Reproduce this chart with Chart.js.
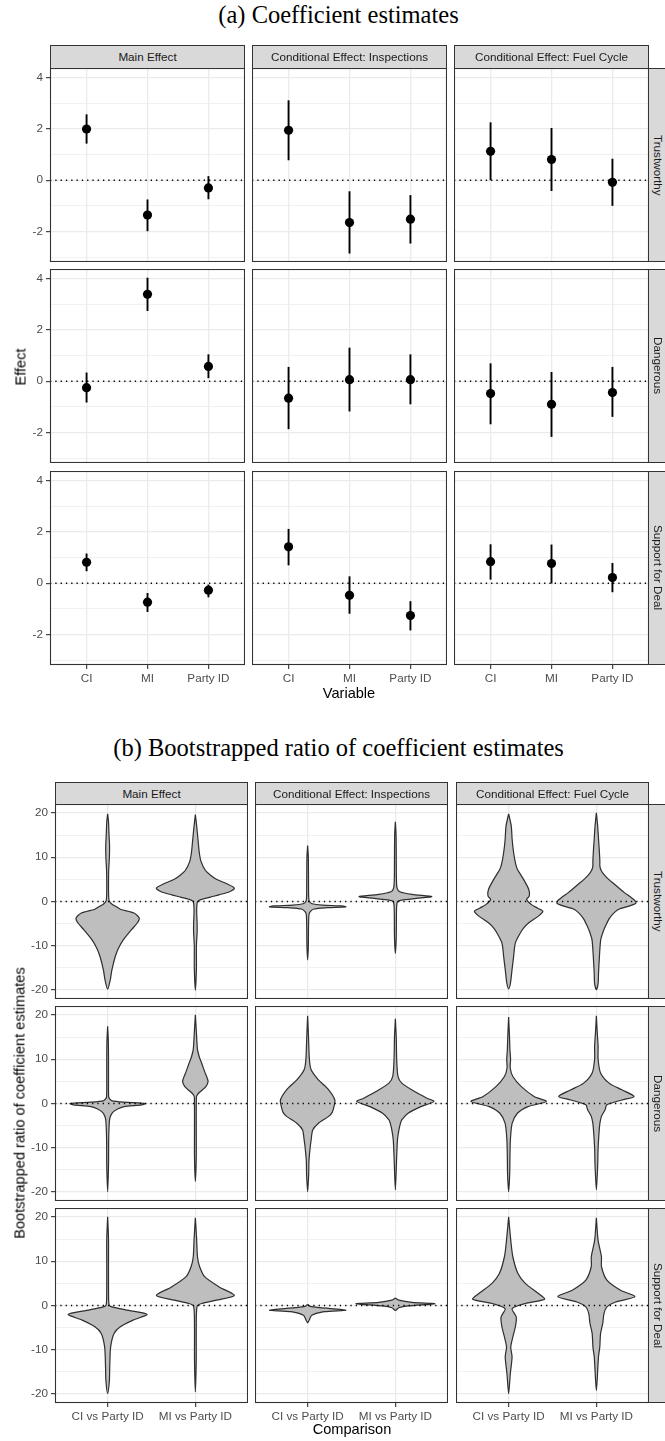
<!DOCTYPE html>
<html>
<head>
<meta charset="utf-8">
<script src="https://cdn.jsdelivr.net/npm/chart.js@4.4.1/dist/chart.umd.min.js"></script>
<style>
html, body { margin: 0; padding: 0; background: #fff; overflow: hidden; }
#page { position: relative; width: 665px; height: 1441px; font-family: "Liberation Sans", Arial, sans-serif; }
#page canvas { position: absolute; }
.lab { position: absolute; white-space: nowrap; color: #000; transform: translate(-50%, -50%); }
.strip { position: absolute; box-sizing: border-box; background: #d9d9d9; border: 1px solid #333; color: #1a1a1a;
         font-size: 11.7px; text-align: center; white-space: nowrap; overflow: hidden; }
.strip.side { writing-mode: vertical-rl; line-height: 16px; }
</style>
</head>
<body>
<div id="page"></div>
<script>
// ---------- data ----------

const facets = ['Main Effect', 'Conditional Effect: Inspections', 'Conditional Effect: Fuel Cycle'];
const outcomes = ['Trustworthy', 'Dangerous', 'Support for Deal'];
const variables = ['CI', 'MI', 'Party ID'];
const comparisons = ['CI vs Party ID', 'MI vs Party ID'];

const effectTicks = [-3, -2, -1, 0, 1, 2, 3, 4];
const effectMajor = [-2, 0, 2, 4];
const ratioTicks = [-20, -15, -10, -5, 0, 5, 10, 15, 20];
const ratioMajor = [-20, -10, 0, 10, 20];

// order: Main CI, MI, Party ID | Inspections CI, MI, Party ID | Fuel Cycle CI, MI, Party ID
const trustEst  = [2.00, -1.36, -0.30,  1.95, -1.65, -1.52,  1.13,  0.81, -0.08];
const trustLow  = [1.43, -1.99, -0.74,  0.78, -2.86, -2.47,  0.00, -0.42, -1.00];
const trustHigh = [2.57, -0.75,  0.16,  3.12, -0.43, -0.58,  2.26,  2.04,  0.84];

const dangerEst  = [-0.25, 3.39, 0.58, -0.66,  0.06,  0.06, -0.48, -0.90, -0.44];
const dangerLow  = [-0.83, 2.74, 0.12, -1.87, -1.18, -0.90, -1.68, -2.17, -1.39];
const dangerHigh = [ 0.34, 4.04, 1.05,  0.56,  1.31,  1.05,  0.70,  0.36,  0.56];

const supportEst  = [0.82, -0.74, -0.27, 1.42, -0.47, -1.26, 0.84,  0.77,  0.22];
const supportLow  = [0.47, -1.12, -0.55, 0.70, -1.19, -1.84, 0.14, -0.01, -0.35];
const supportHigh = [1.16, -0.38, -0.05, 2.12,  0.27, -0.70, 1.52,  1.51,  0.79];

// violin profiles: [ratio value, half width of the density in category units]
const vTrustMainCI = [[19.8,0],[18,0.01],[15,0.016],[12.5,0.022],[10,0.02],[7,0.012],[4,0.01],[1,0.012],[0,0.02],
  [-0.6,0.05],[-1.2,0.1],[-1.8,0.15],[-2.6,0.3],[-3.7,0.36],[-4.8,0.34],[-6.4,0.27],[-8.6,0.18],[-10.5,0.125],
  [-12.4,0.087],[-15.5,0.048],[-17.7,0.03],[-19.8,0]];
const vTrustMainMI = [[19.6,0],[17,0.015],[14,0.03],[11,0.045],[9,0.065],[7,0.115],[6,0.17],[5,0.24],[4,0.36],
  [3,0.445],[2.2,0.39],[1.5,0.27],[1,0.17],[0.5,0.075],[0,0.025],[-2,0.015],[-5,0.02],[-7,0.02],[-10,0.012],
  [-15,0.012],[-20,0]];
const vTrustInsCI = [[12.6,0],[10,0.008],[5,0.01],[1,0.012],[0,0.02],[-0.5,0.05],[-0.8,0.17],[-1.0,0.39],
  [-1.2,0.435],[-1.4,0.22],[-1.7,0.07],[-2.3,0.03],[-3,0.015],[-6,0.01],[-10,0.008],[-13.2,0]];
const vTrustInsMI = [[18,0],[15,0.008],[10,0.01],[5,0.012],[3,0.02],[2.2,0.05],[1.6,0.19],[1.1,0.415],
  [0.7,0.24],[0.3,0.07],[0,0.025],[-1,0.015],[-3,0.012],[-8,0.01],[-11.7,0]];
const vTrustFuelCI = [[19.8,0],[17,0.03],[14,0.04],[11,0.057],[8.5,0.08],[7.3,0.1],[5,0.17],[2.7,0.23],
  [1.2,0.235],[0.45,0.205],[-0.7,0.26],[-1.5,0.33],[-2.2,0.39],[-3.3,0.34],[-4.8,0.23],[-6,0.17],[-7.1,0.133],
  [-9.4,0.076],[-12.4,0.057],[-15.5,0.038],[-18.5,0.02],[-19.7,0]];
const vTrustFuelMI = [[20,0],[17,0.015],[14,0.025],[11,0.035],[9,0.04],[8,0.04],[7,0.055],[6,0.09],[5,0.14],
  [4,0.2],[3,0.26],[2,0.32],[1,0.39],[0.2,0.44],[-0.4,0.45],[-1,0.38],[-1.8,0.25],[-3,0.18],[-4.1,0.14],
  [-5.3,0.11],[-6.4,0.085],[-8.6,0.05],[-12.4,0.035],[-16,0.025],[-18.5,0.02],[-19.9,0]];

const vDangerMainCI = [[17.4,0],[14,0.008],[10,0.01],[5,0.01],[1.5,0.012],[1,0.025],[0.6,0.05],[0.3,0.19],
  [0,0.43],[-0.3,0.39],[-0.7,0.19],[-1.2,0.12],[-2,0.058],[-3,0.03],[-4,0.02],[-8,0.012],[-14,0.01],[-19.9,0]];
const vDangerMainMI = [[20,0],[16,0.012],[12.2,0.024],[10.5,0.045],[9.1,0.072],[7.2,0.106],[6,0.13],[5,0.145],
  [3.8,0.12],[2.7,0.058],[2,0.024],[1.5,0.012],[-5,0.01],[-12,0.01],[-17.6,0]];
const vDangerInsCI = [[19.8,0],[15,0.01],[10,0.02],[7.6,0.04],[5.4,0.12],[3.1,0.24],[0.8,0.31],[-0.7,0.3],
  [-2,0.28],[-2.9,0.24],[-4.5,0.12],[-6,0.058],[-8.2,0.04],[-9.7,0.03],[-13,0.015],[-16,0.012],[-19.9,0]];
const vDangerInsMI = [[19.1,0],[15,0.01],[10,0.015],[6.1,0.03],[4.6,0.073],[2.7,0.22],[1.2,0.36],[0.45,0.44],
  [-0.7,0.29],[-2.2,0.145],[-3.7,0.073],[-4.5,0.058],[-6,0.04],[-8.2,0.024],[-12,0.015],[-19.5,0]];
const vDangerFuelCI = [[19.5,0],[15,0.01],[12,0.015],[10,0.022],[8,0.018],[6.1,0.048],[3.8,0.145],[1.6,0.29],
  [0.45,0.43],[-0.7,0.22],[-2.2,0.1],[-4.5,0.04],[-8.2,0.02],[-12,0.015],[-16,0.012],[-19.9,0]];
const vDangerFuelMI = [[19.8,0],[16,0.01],[12.9,0.02],[10,0.02],[6.9,0.048],[4.6,0.145],[3.1,0.29],[1.6,0.43],
  [0.8,0.29],[-0.3,0.12],[-1.4,0.1],[-2.9,0.058],[-4.5,0.04],[-6.7,0.03],[-10,0.02],[-14,0.015],[-19.5,0]];

const vSupportMainCI = [[20,0],[15,0.01],[10,0.01],[5,0.01],[1,0.012],[0,0.02],[-0.3,0.05],[-1.1,0.24],
  [-2,0.45],[-3.3,0.29],[-4.8,0.145],[-6.3,0.073],[-9.4,0.034],[-13.9,0.024],[-16.9,0.02],[-19.9,0]];
const vSupportMainMI = [[19.8,0],[14.8,0.015],[11,0.024],[8.8,0.048],[6.5,0.106],[4.2,0.27],[2.3,0.445],
  [1.2,0.24],[0.45,0.073],[-0.15,0.02],[-5,0.01],[-12,0.01],[-19.5,0]];
const vSupportInsCI = [[0.25,0],[-0.2,0.03],[-0.5,0.145],[-1.05,0.435],[-1.4,0.19],[-2.2,0.048],[-3.2,0.02],[-3.9,0]];
const vSupportInsMI = [[1.7,0],[1.2,0.04],[0.7,0.19],[0.4,0.45],[-0.1,0.145],[-0.5,0.04],[-1.1,0]];
const vSupportFuelCI = [[20,0],[14.8,0.024],[11,0.048],[7.2,0.106],[5,0.19],[2.7,0.34],[1.4,0.41],[0.45,0.19],
  [-0.7,0.04],[-2.6,0.087],[-4.8,0.077],[-7.1,0.048],[-9.4,0.024],[-11.6,0.039],[-15.4,0.019],[-19.9,0]];
const vSupportFuelMI = [[19.8,0],[14.8,0.019],[11,0.058],[8.8,0.058],[5.7,0.12],[3.5,0.27],[2,0.44],[0.8,0.22],
  [-0.3,0.12],[-1.8,0.087],[-4,0.073],[-6.3,0.048],[-9.4,0.039],[-11.6,0.024],[-19.2,0]];

// ---------- layout ----------

const page = document.getElementById('page');
const BOTTOM_H = 26;
const layoutA = { lefts: [50, 252, 454], tops: [68, 269, 471], w: 195, h: 194, stripTop: 45, leftW: 50 };
const layoutB = { lefts: [55, 255, 456], tops: [804, 1006, 1208], w: 193, h: 195, stripTop: 782, leftW: 55 };

Chart.defaults.font.family = '"Liberation Sans", Arial, sans-serif';
Chart.defaults.color = '#4d4d4d';

const panelBox = {
    id: 'panelBox',
    afterDraw(chart) {
        const a = chart.chartArea;
        const ctx = chart.ctx;
        ctx.save();
        ctx.strokeStyle = '#333333';
        ctx.lineWidth = 1.1;
        ctx.strokeRect(a.left + 0.5, a.top + 0.5, a.right - a.left - 1, a.bottom - a.top - 1);
        ctx.restore();
    }
};

function label(text, cx, cy, size, extra) {
    const d = document.createElement('div');
    d.className = 'lab';
    d.textContent = text;
    d.style.left = cx + 'px';
    d.style.top = cy + 'px';
    d.style.fontSize = size + 'px';
    d.style.lineHeight = Math.round(size * 1.3) + 'px';
    Object.assign(d.style, extra || {});
    page.appendChild(d);
}

function strip(text, left, top, w, h, side) {
    const d = document.createElement('div');
    d.className = side ? 'strip side' : 'strip';
    d.textContent = text;
    d.style.left = left + 'px';
    d.style.top = top + 'px';
    d.style.width = w + 'px';
    d.style.height = h + 'px';
    if (!side) d.style.lineHeight = (h - 2) + 'px';
    page.appendChild(d);
}

function zeroLine(xMin, xMax) {
    return {
        data: [{ x: xMin, y: 0 }, { x: xMax, y: 0 }],
        borderColor: '#000', borderWidth: 1.3, borderDash: [1.3, 4], pointRadius: 0, fill: false
    };
}

function violinPoints(center, profile) {
    const right = profile.map(([v, hw]) => ({ x: center + hw, y: v }));
    const left = profile.slice(1, -1).reverse().map(([v, hw]) => ({ x: center - hw, y: v }));
    return right.concat(left, [{ x: center, y: profile[0][0] }]);
}

function makePanel(o) {
    const leftW = o.leftCol ? o.leftW : 0;
    const bottomH = o.bottom ? BOTTOM_H : 0;
    const cw = o.w + leftW, ch = o.h + bottomH;
    const cv = document.createElement('canvas');
    cv.width = cw;
    cv.height = ch;
    cv.style.left = (o.left - leftW) + 'px';
    cv.style.top = o.top + 'px';
    cv.style.width = cw + 'px';
    cv.style.height = ch + 'px';
    page.appendChild(cv);

    const noPad = s => { s.paddingLeft = s.paddingRight = s.paddingTop = s.paddingBottom = 0; };
    const isMajor = v => o.yMajor.includes(v);

    new Chart(cv, {
        type: 'line',
        data: { datasets: o.datasets },
        options: {
            responsive: false,
            animation: false,
            events: [],
            layout: { padding: 0, autoPadding: false },
            plugins: { legend: { display: false }, tooltip: { enabled: false } },
            scales: {
                x: {
                    type: 'linear', min: o.xMin, max: o.xMax,
                    afterBuildTicks: s => { s.ticks = o.xTicks.map(v => ({ value: v })); },
                    afterFit: s => { s.height = bottomH; noPad(s); },
                    ticks: {
                        display: o.bottom, autoSkip: false, maxRotation: 0, padding: 3,
                        color: '#4d4d4d', font: { size: 11.7 },
                        callback: v => o.xLabels[v - 1]
                    },
                    grid: { color: '#ebebeb', lineWidth: 1.3, drawTicks: o.bottom, tickLength: 4, tickColor: '#333333', tickWidth: 1.1 },
                    border: { display: false }
                },
                y: {
                    type: 'linear', min: o.yMin, max: o.yMax,
                    afterBuildTicks: s => { s.ticks = o.yTicks.map(v => ({ value: v })); },
                    afterFit: s => { s.width = leftW; noPad(s); },
                    ticks: {
                        display: o.leftCol, autoSkip: false, padding: 3,
                        color: '#4d4d4d', font: { size: 11.7 },
                        callback: v => isMajor(v) ? String(v) : ''
                    },
                    grid: {
                        color: '#ebebeb',
                        lineWidth: c => isMajor(c.tick.value) ? 1.3 : 0.7,
                        drawTicks: o.leftCol, tickLength: 4, tickWidth: 1.1,
                        tickColor: c => isMajor(c.tick.value) ? '#333333' : 'rgba(0,0,0,0)'
                    },
                    border: { display: false }
                }
            }
        },
        plugins: [panelBox]
    });
}

// ---------- (a) coefficient estimates ----------

const estRows = [trustEst, dangerEst, supportEst];
const lowRows = [trustLow, dangerLow, supportLow];
const highRows = [trustHigh, dangerHigh, supportHigh];

label('(a) Coefficient estimates', 338.5, 15.4, 24.5, { fontFamily: '"Liberation Serif", "Times New Roman", serif' });

for (let r = 0; r < 3; r++) {
    for (let c = 0; c < 3; c++) {
        const idx = [0, 1, 2].map(i => c * 3 + i);
        const datasets = [{
            data: idx.map((k, i) => ({ x: i + 1, y: estRows[r][k] })),
            showLine: false, pointRadius: 4.6, pointBackgroundColor: '#000', pointBorderColor: '#000', pointBorderWidth: 0
        }];
        idx.forEach((k, i) => datasets.push({
            data: [{ x: i + 1, y: lowRows[r][k] }, { x: i + 1, y: highRows[r][k] }],
            borderColor: '#000', borderWidth: 1.9, pointRadius: 0, fill: false
        }));
        datasets.push(zeroLine(0.4, 3.6));
        makePanel({
            left: layoutA.lefts[c], top: layoutA.tops[r], w: layoutA.w, h: layoutA.h, leftW: layoutA.leftW,
            leftCol: c === 0, bottom: r === 2,
            xMin: 0.4, xMax: 3.6, xTicks: [1, 2, 3], xLabels: variables,
            yMin: -3.19, yMax: 4.38, yTicks: effectTicks, yMajor: effectMajor,
            datasets
        });
    }
}
facets.forEach((f, c) => strip(f, layoutA.lefts[c], layoutA.stripTop, layoutA.w, layoutA.tops[0] - layoutA.stripTop + 1));
outcomes.forEach((t, r) => strip(t, layoutA.lefts[2] + layoutA.w - 1, layoutA.tops[r], 19, layoutA.h, true));
label('Effect', 20.5, 366.5, 14.6, { transform: 'translate(-50%, -50%) rotate(-90deg)' });
label('Variable', 349, 693, 14.6);

// ---------- (b) bootstrapped ratios ----------

const violinRows = [
    [[vTrustMainCI, vTrustMainMI], [vTrustInsCI, vTrustInsMI], [vTrustFuelCI, vTrustFuelMI]],
    [[vDangerMainCI, vDangerMainMI], [vDangerInsCI, vDangerInsMI], [vDangerFuelCI, vDangerFuelMI]],
    [[vSupportMainCI, vSupportMainMI], [vSupportInsCI, vSupportInsMI], [vSupportFuelCI, vSupportFuelMI]]
];

label('(b) Bootstrapped ratio of coefficient estimates', 338.6, 747.9, 24.5, { fontFamily: '"Liberation Serif", "Times New Roman", serif' });

for (let r = 0; r < 3; r++) {
    for (let c = 0; c < 3; c++) {
        const datasets = [zeroLine(0.4, 2.6)];
        violinRows[r][c].forEach((prof, i) => datasets.push({
            data: violinPoints(i + 1, prof),
            fill: 'shape', backgroundColor: '#bebebe', borderColor: '#2e2e2e', borderWidth: 1.2,
            tension: 0.25, pointRadius: 0
        }));
        makePanel({
            left: layoutB.lefts[c], top: layoutB.tops[r], w: layoutB.w, h: layoutB.h, leftW: layoutB.leftW,
            leftCol: c === 0, bottom: r === 2,
            xMin: 0.4, xMax: 2.6, xTicks: [1, 2], xLabels: comparisons,
            yMin: -22, yMax: 22, yTicks: ratioTicks, yMajor: ratioMajor,
            datasets
        });
    }
}
facets.forEach((f, c) => strip(f, layoutB.lefts[c], layoutB.stripTop, layoutB.w, layoutB.tops[0] - layoutB.stripTop + 1));
outcomes.forEach((t, r) => strip(t, layoutB.lefts[2] + layoutB.w - 1, layoutB.tops[r], 19, layoutB.h, true));
label('Bootstrapped ratio of coefficient estimates', 20, 1103.3, 14.6, { transform: 'translate(-50%, -50%) rotate(-90deg)' });
label('Comparison', 352, 1428.7, 14.6);
</script>
</body>
</html>
